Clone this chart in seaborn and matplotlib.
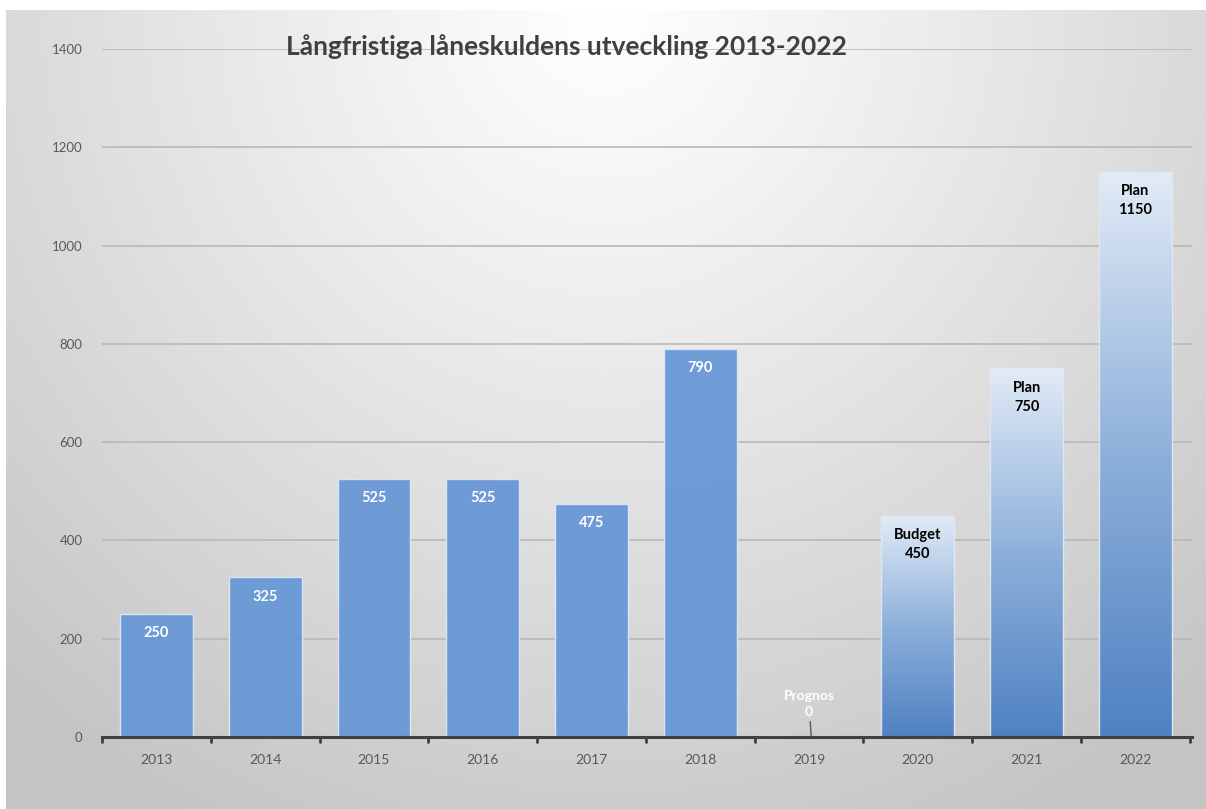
import matplotlib

matplotlib.use("Agg")
import matplotlib.pyplot as plt
import numpy as np
import pandas as pd
import seaborn as sns
from matplotlib.colors import LinearSegmentedColormap

years = ["2013", "2014", "2015", "2016", "2017", "2018", "2019", "2020", "2021", "2022"]
values = [250, 325, 525, 525, 475, 790, 0, 450, 750, 1150]
prefixes = ["", "", "", "", "", "", "Prognos", "Budget", "Plan", "Plan"]
gradient_years = ["2020", "2021", "2022"]
y_ticks = [0, 200, 400, 600, 800, 1000, 1200, 1400]
title = "Långfristiga låneskuldens utveckling 2013-2022"

df = pd.DataFrame({"year": years, "value": values})

sns.set_theme(style="white")
plt.rcParams["font.family"] = ["Lato", "DejaVu Sans"]

W, H = 1206, 809
fig = plt.figure(figsize=(W / 100, H / 100), dpi=100)
fig.patch.set_facecolor("white")

# radial grey background (chart area), leaving a thin white frame top/left
bg = fig.add_axes([6 / W, 0, 1 - 6 / W, 1 - 10 / H])
gx, gy = np.meshgrid(np.linspace(0, 1, 400), np.linspace(0, 1, 300))
dist = np.sqrt(((gx - 0.5) / 0.75) ** 2 + ((gy - 0.0) / 1.15) ** 2)
dist = np.clip(dist, 0, 1)
shade = 1.0 - 0.23 * dist ** 1.1
bg.imshow(np.dstack([shade, shade, shade]), aspect="auto", extent=(0, 1, 1, 0))
bg.set_axis_off()

ax = fig.add_axes([102 / W, 1 - 737 / H, (1192 - 102) / W, (737 - 49) / H])
ax.patch.set_alpha(0)

sns.barplot(data=df, x="year", y="value", color="#6898d6", width=0.67,
            saturation=1, ax=ax, zorder=3)

grad_cmap = LinearSegmentedColormap.from_list("g", ["#4f81c2", "#8db0da", "#e2ebf6"])
for patch, yr in zip(ax.patches, years):
    patch.set_edgecolor("#dfe8f4")
    patch.set_linewidth(1.0)
    patch.set_alpha(0.95)
    if yr in gradient_years:
        x0, y0 = patch.get_x(), patch.get_y()
        w, h = patch.get_width(), patch.get_height()
        patch.set_facecolor("none")
        grad = np.linspace(0, 1, 256).reshape(-1, 1)
        im = ax.imshow(grad, cmap=grad_cmap, aspect="auto", origin="lower",
                       extent=(x0, x0 + w, y0, y0 + h), zorder=2.9)
        im.set_clip_path(patch)

ax.set_xlim(-0.5, 9.52)
ax.set_ylim(0, 1400)
ax.set_yticks(y_ticks)
ax.set_yticklabels([str(t) for t in y_ticks])
ax.yaxis.grid(True, color="#b8b8b8", linewidth=1.2, zorder=1)
ax.set_axisbelow(True)

for s in ["top", "right", "left"]:
    ax.spines[s].set_visible(False)
ax.spines["bottom"].set_color("#404040")
ax.spines["bottom"].set_linewidth(2.2)
ax.spines["bottom"].set_zorder(5)

ax.set_xlabel("")
ax.set_ylabel("")
ax.tick_params(axis="y", length=0, pad=14, labelsize=9.5, labelcolor="#595959")
ax.tick_params(axis="x", length=0, pad=12, labelsize=10, labelcolor="#595959")
# category boundary tick marks
for b in np.arange(-0.5, 10, 1.0):
    ax.plot([b, b], [0, -10], color="#404040", lw=2, clip_on=False, zorder=5)

# data labels
for i, (yr, v, pre) in enumerate(zip(years, values, prefixes)):
    if yr == "2019":
        ax.annotate(f"{pre}\n{v}", xy=(i + 0.02, 0), xytext=(i, 38),
                    ha="center", va="bottom", fontsize=10, fontweight="bold",
                    color="white", linespacing=1.4,
                    arrowprops=dict(arrowstyle="-", color="#595959", lw=1,
                                    shrinkA=0, shrinkB=0))
        continue
    text = f"{pre}\n{v}" if pre else str(v)
    color = "black" if yr in gradient_years else "white"
    ax.text(i, v - 25, text, ha="center", va="top", fontsize=10.5,
            fontweight="bold", color=color, linespacing=1.45, zorder=6)

fig.text(567 / W, 1 - 47 / H, title, ha="center", va="center",
         fontsize=19, fontweight="bold", color="#404040")

fig.savefig("out.png", dpi=100)
